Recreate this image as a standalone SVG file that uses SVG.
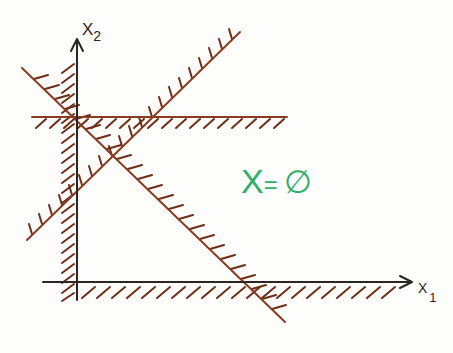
<svg xmlns="http://www.w3.org/2000/svg" width="453" height="353" viewBox="0 0 453 353">
<style>
.axis{stroke:#2b2624;stroke-width:2;fill:none;stroke-linecap:round;stroke-linejoin:round}
.line{stroke:#8a3c20;stroke-width:2;fill:none;stroke-linecap:round}
.hatch{stroke:#6e2e18;stroke-width:2;fill:none;stroke-linecap:round}
.lbl{font-family:"Liberation Sans",Arial,sans-serif;fill:#2b2624}
.res{font-family:"Liberation Sans",Arial,sans-serif;fill:#2fae6c}
</style>
<rect width="453" height="353" fill="#fdfdfc"/>
<g id="hatching">
<path class="hatch" d="M62 73L74 64M62 83L74 74M62 93L74 84M62 103L74 94M62 113L74 104M62 123L74 114M62 133L74 124M62 143L74 134M62 153L74 144M62 163L74 154M62 173L74 164M62 183L74 174M62 193L74 184M62 203L74 194M62 213L74 204M62 223L74 214M62 233L74 224M62 243L74 234M62 253L74 244M62 263L74 254M62 273L74 264M62 283L74 274M62 293L74 284M62 301L74 293"/>
<path class="hatch" d="M36 128L46 119M50 128L60 119M64 128L74 119M78 128L88 119M92 128L102 119M106 128L116 119M120 128L130 119M134 128L144 119M148 128L158 119M162 128L172 119M176 128L186 119M190 128L200 119M204 128L214 119M218 128L228 119M232 128L242 119M246 128L256 119M260 128L270 119M274 128L284 119"/>
<path class="hatch" d="M82 298L95 287M97 298L110 287M112 298L125 287M127 298L140 287M142 298L155 287M157 298L170 287M172 298L185 287M187 298L200 287M202 298L215 287M217 298L230 287M232 298L245 287M247 298L260 287M262 298L275 287M277 298L290 287M292 298L305 287M307 298L320 287M322 298L335 287M337 298L350 287M352 298L365 287M367 298L380 287M382 298L395 287"/>
<path class="hatch" d="M34 79L48 75M45 89L59 85M55 99L69 95M65 109L79 105M76 119L90 115M86 129L100 125M96 139L110 135M107 149L121 145M117 159L131 155M128 169L142 165M138 179L152 175M148 189L162 185M159 199L173 195M169 209L183 205M179 219L193 215M190 229L204 225M200 239L214 235M210 249L224 245M221 259L235 255M231 269L245 265M241 279L255 275M252 289L266 285M262 299L276 295M272 309L286 305"/>
<path class="hatch" d="M29 224L32 234M39 214L42 224M49 205L52 215M59 195L62 205M69 185L72 195M79 175L82 185M89 166L92 176M99 156L102 166M109 146L112 156M119 136L122 146M129 126L132 136M139 117L142 127M149 107L152 117M159 97L162 107M169 87L172 97M179 78L182 88M189 68L192 78M199 58L202 68M209 48L212 58M219 39L222 49M229 29L232 39"/>
</g>
<g id="constraints">
<path class="line" d="M22 68L285 322"/>
<path class="line" d="M27 240L240 32"/>
<path class="line" d="M32 117L287 117"/>
</g>
<g id="axes">
<path class="axis" d="M77 300L77 40M71 51L77 39L83 51"/>
<path class="axis" d="M43 282L411 282M400 276L412 282L400 288"/>
<text class="lbl" x="82" y="35" font-size="17">X<tspan font-size="14" dy="6">2</tspan></text>
<text class="lbl" x="418" y="293" font-size="14">X<tspan font-size="13" dx="2" dy="9">1</tspan></text>
</g>
<g id="result">
<text class="res" x="241" y="193" font-size="34">X<tspan font-size="24">=</tspan><tspan font-size="32" dx="6">∅</tspan></text>
</g>
</svg>
